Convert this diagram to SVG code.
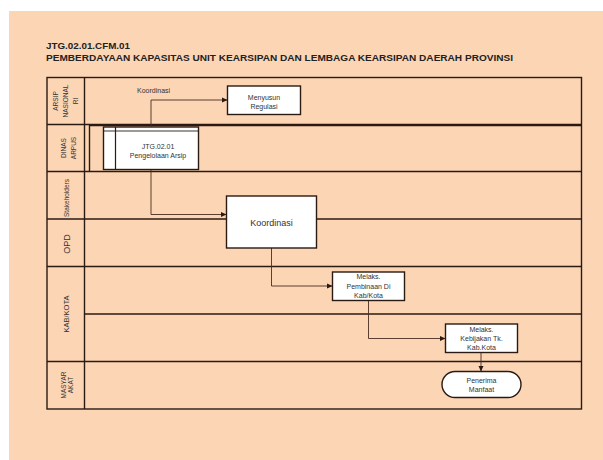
<svg xmlns="http://www.w3.org/2000/svg" width="603" height="460" viewBox="0 0 603 460">
<style>
.t{font-family:"Liberation Sans",Arial,sans-serif;fill:#333;}
.title{font-family:"Liberation Sans",Arial,sans-serif;font-weight:bold;fill:#222;font-size:9px;}
.lane{stroke:#2a1a12;stroke-width:1.4;fill:none;}
.box{fill:#fff;stroke:#2a1a12;stroke-width:1.4;}
.conn{stroke:#4a2e20;stroke-width:0.9;fill:none;marker-end:url(#ah);}
.lbl{font-size:6.5px;text-anchor:middle;}
</style>
<defs>
<marker id="ah" markerWidth="6" markerHeight="6" refX="5" refY="3" orient="auto" markerUnits="userSpaceOnUse">
<path d="M0,0.5 L5.5,3 L0,5.5 Z" fill="#2a1a12"/>
</marker>
</defs>
<rect x="0" y="0" width="603" height="460" fill="#ffffff"/>
<rect x="9" y="11" width="594" height="449" fill="#fcd5b5"/>
<g id="title">
<text class="title" x="46" y="49" font-size="9.5" textLength="84" lengthAdjust="spacingAndGlyphs">JTG.02.01.CFM.01</text>
<text class="title" x="46" y="60.5" textLength="467" lengthAdjust="spacingAndGlyphs">PEMBERDAYAAN KAPASITAS UNIT KEARSIPAN DAN LEMBAGA KEARSIPAN DAERAH PROVINSI</text>
</g>
<g id="lanes">
<rect class="lane" x="47" y="77.5" width="534.5" height="331.5"/>
<line class="lane" x1="84.5" y1="77.5" x2="84.5" y2="409"/>
<line class="lane" x1="47" y1="124.5" x2="581.5" y2="124.5"/>
<line class="lane" x1="47" y1="171.5" x2="581.5" y2="171.5"/>
<line class="lane" x1="47" y1="219" x2="581.5" y2="219"/>
<line class="lane" x1="47" y1="266.5" x2="581.5" y2="266.5"/>
<line class="lane" x1="84.5" y1="314" x2="581.5" y2="314"/>
<line class="lane" x1="47" y1="361.5" x2="581.5" y2="361.5"/>
<line class="lane" x1="89.5" y1="125" x2="89.5" y2="171.5"/>
<line class="lane" x1="89.5" y1="125.5" x2="581.5" y2="125.5" stroke-width="0.8"/>
</g>
<g id="lane-labels" class="t">
<text class="t lbl" transform="translate(57.5,101) rotate(-90)">ARSIP</text>
<text class="t lbl" transform="translate(68,101) rotate(-90)">NASIONAL</text>
<text class="t lbl" transform="translate(78,101) rotate(-90)">RI</text>
<text class="t lbl" transform="translate(66,148) rotate(-90)">DINAS</text>
<text class="t lbl" transform="translate(75.5,148) rotate(-90)">ARPUS</text>
<text class="t lbl" transform="translate(68.5,198) rotate(-90)" font-size="6.5">Stakeholders</text>
<text class="t" transform="translate(69.5,244) rotate(-90)" font-size="9" text-anchor="middle">OPD</text>
<text class="t" transform="translate(68.5,314) rotate(-90)" font-size="7.5" text-anchor="middle">KAB/KOTA</text>
<text class="t lbl" transform="translate(65.5,385) rotate(-90)">MASYAR</text>
<text class="t lbl" transform="translate(73,385) rotate(-90)">AKAT</text>
</g>
<g id="connectors">
<polyline class="conn" points="151,126.5 151,100 227,100"/>
<polyline class="conn" points="151,169.5 151,214.5 226,214.5"/>
<polyline class="conn" points="271.5,247.5 271.5,286 332,286"/>
<polyline class="conn" points="368.5,300.5 368.5,338.5 445,338.5"/>
<polyline class="conn" points="481,352.5 481,371"/>
<text class="t" x="137" y="92.5" font-size="7">Koordinasi</text>
</g>
<g id="n-subprocess">
<rect class="box" x="103.5" y="127" width="95" height="42.5"/>
<line x1="115.5" y1="127" x2="115.5" y2="169.5" stroke="#2a1a12" stroke-width="1.2"/>
<line x1="103.5" y1="131" x2="198.5" y2="131" stroke="#2a1a12" stroke-width="0.9"/>
<text class="t" x="158" y="149" font-size="7" text-anchor="middle">JTG.02.01</text>
<text class="t" x="158" y="158" font-size="7" text-anchor="middle">Pengelolaan  Arsip</text>
</g>
<g id="n-menyusun">
<rect class="box" x="227.5" y="86" width="73" height="28.5"/>
<text class="t" x="264" y="100" font-size="7" text-anchor="middle">Menyusun</text>
<text class="t" x="264" y="108.5" font-size="7" text-anchor="middle">Regulasi</text>
</g>
<g id="n-koordinasi">
<rect class="box" x="226.5" y="196" width="90" height="52"/>
<text class="t" x="271.5" y="225.5" font-size="9" text-anchor="middle">Koordinasi</text>
</g>
<g id="n-pembinaan">
<rect class="box" x="332.5" y="272" width="72" height="28.5"/>
<text class="t" x="368.5" y="279" font-size="7" text-anchor="middle">Melaks.</text>
<text class="t" x="368.5" y="288.5" font-size="7" text-anchor="middle">Pembinaan Di</text>
<text class="t" x="368.5" y="297.5" font-size="7" text-anchor="middle">Kab/Kota</text>
</g>
<g id="n-kebijakan">
<rect class="box" x="445.5" y="324" width="72" height="28.5"/>
<text class="t" x="481.5" y="331.5" font-size="7" text-anchor="middle">Melaks.</text>
<text class="t" x="481.5" y="340.5" font-size="7" text-anchor="middle">Kebijakan Tk.</text>
<text class="t" x="481.5" y="349.5" font-size="7" text-anchor="middle">Kab.Kota</text>
</g>
<g id="n-penerima">
<rect class="box" x="442" y="371.5" width="79" height="26" rx="13" ry="13"/>
<text class="t" x="481.5" y="382.5" font-size="7" text-anchor="middle">Penerima</text>
<text class="t" x="481.5" y="391.5" font-size="7" text-anchor="middle">Manfaat</text>
</g>
</svg>
